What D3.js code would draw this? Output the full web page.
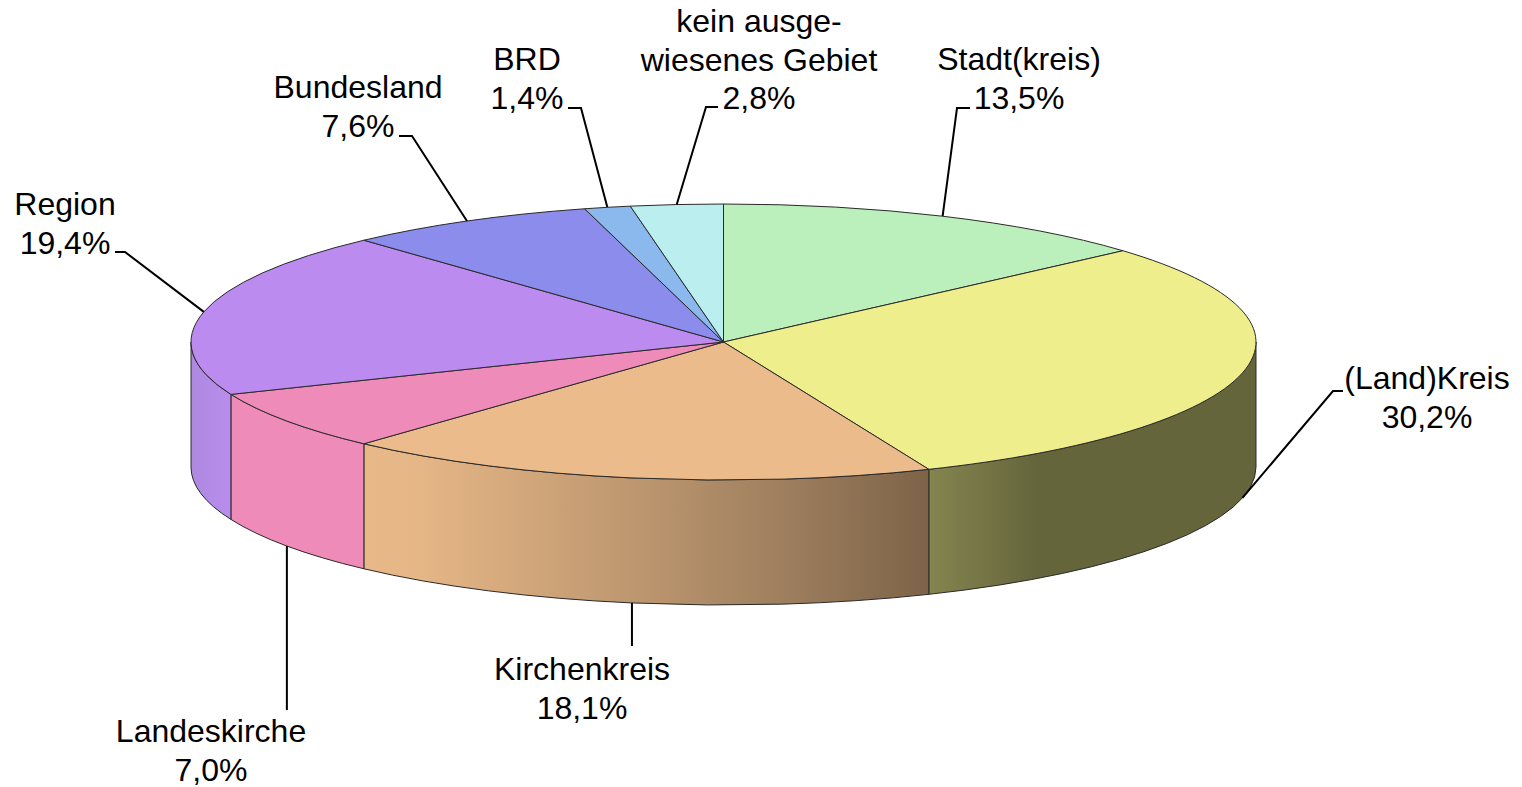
<!DOCTYPE html>
<html><head><meta charset="utf-8">
<script src="https://cdn.jsdelivr.net/npm/d3@7"></script>
<style>html,body{margin:0;padding:0;background:#fff;overflow:hidden}text{font-family:"Liberation Sans",Arial,sans-serif;fill:#000}</style>
</head><body><svg id="c" width="1522" height="787"></svg>
<script>
const categories = [["Stadt(kreis)"],["(Land)Kreis"],["Kirchenkreis"],["Landeskirche"],["Region"],["Bundesland"],["BRD"],["kein ausge-","wiesenes Gebiet"]];
const values = [13.5,30.2,18.1,7.0,19.4,7.6,1.4,2.8];
const topColors = ["#bbefbb","#eeee8c","#ecbb8c","#ef8bb9","#bb8bef","#8c8ced","#8bb9ee","#bbeeee"];
const wallStops = [null,
  [[0,"#858550"],[0.33,"#65653c"],[1,"#65653c"]],
  [[0,"#e8b888"],[0.1,"#e5b686"],[0.5,"#bb956e"],[0.76,"#9c7d5d"],[1,"#7d6348"]],
  [[0,"#ef8bb9"],[1,"#ef8bb9"]],
  [[0,"#ae88de"],[1,"#b98def"]],
  null,null,null];
// label layout: text centre x, first baseline y, elbow x,y, end x, whether the leader starts on the lower rim
const labelX = [1019,1427,582,211,65,358,527,759];
const labelY = [70,389,680,742,215,98,70,32];
const elbowX = [957,1333,null,null,125,412,581,706];
const elbowY = [108,391,646,710,252,136,108,107];
const endX   = [970,1343,null,null,115,399,568,718];
const lower  = [false,true,true,true,false,false,false,false];

const cx=723.5, cy=342, rx=532.5, ry=138, depth=125, fontSize=32, lineH=38.5;
const svg=d3.select("#c"), defs=svg.append("defs");
const arcs=d3.pie().sort(null).value(d=>d).startAngle(0).endAngle(2*Math.PI)(values);
const px=a=>cx+rx*Math.sin(a), py=a=>cy-ry*Math.cos(a);
const seg=(a0,a1,dy=0)=>`A${rx},${ry} 0 ${a1-a0>Math.PI?1:0} 1 ${px(a1)},${py(a1)+dy}`;
const rev=(a0,a1,dy=0)=>`A${rx},${ry} 0 ${a1-a0>Math.PI?1:0} 0 ${px(a0)},${py(a0)+dy}`;

// walls (front half only)
const lo=Math.PI/2, hi=3*Math.PI/2;
arcs.forEach((d,i)=>{
  const a0=Math.max(d.startAngle,lo), a1=Math.min(d.endAngle,hi);
  if(a1<=a0) return;
  const x0=px(a0), x1=px(a1);
  const g=defs.append("linearGradient").attr("id","w"+i).attr("gradientUnits","userSpaceOnUse")
    .attr("x1",Math.min(x0,x1)).attr("x2",Math.max(x0,x1)).attr("y1",0).attr("y2",0);
  // stops are given left to right
  (wallStops[i]||[[0,topColors[i]],[1,topColors[i]]]).forEach(s=>g.append("stop").attr("offset",s[0]).attr("stop-color",s[1]));
  svg.append("path")
    .attr("d",`M${x0},${py(a0)} ${seg(a0,a1)} L${x1},${py(a1)+depth} ${rev(a0,a1,depth)} Z`)
    .attr("fill",`url(#w${i})`).attr("stroke","#2a2a2a").attr("stroke-width",1).attr("stroke-linejoin","round");
});
// top
svg.selectAll("path.top").data(arcs).join("path").attr("class","top")
  .attr("d",d=>`M${cx},${cy} L${px(d.startAngle)},${py(d.startAngle)} ${seg(d.startAngle,d.endAngle)} Z`)
  .attr("fill",(d,i)=>topColors[i]).attr("stroke","#2a2a2a").attr("stroke-width",1).attr("stroke-linejoin","round");
// leaders and labels
arcs.forEach((d,i)=>{
  const m=(d.startAngle+d.endAngle)/2, x=px(m), y=py(m)+(lower[i]?depth:0);
  const pts=[[x,y],[elbowX[i]===null?x:elbowX[i],elbowY[i]]];
  if(endX[i]!==null) pts.push([endX[i],elbowY[i]]);
  svg.append("path").attr("d",d3.line()(pts)).attr("fill","none").attr("stroke","#000").attr("stroke-width",2);
  const lines=[...categories[i],values[i].toFixed(1).replace(".",",")+"%"];
  const t=svg.append("text").attr("text-anchor","middle").attr("font-size",fontSize);
  lines.forEach((s,k)=>t.append("tspan").attr("x",labelX[i]).attr("y",labelY[i]+k*lineH).text(s));
});
</script></body></html>
